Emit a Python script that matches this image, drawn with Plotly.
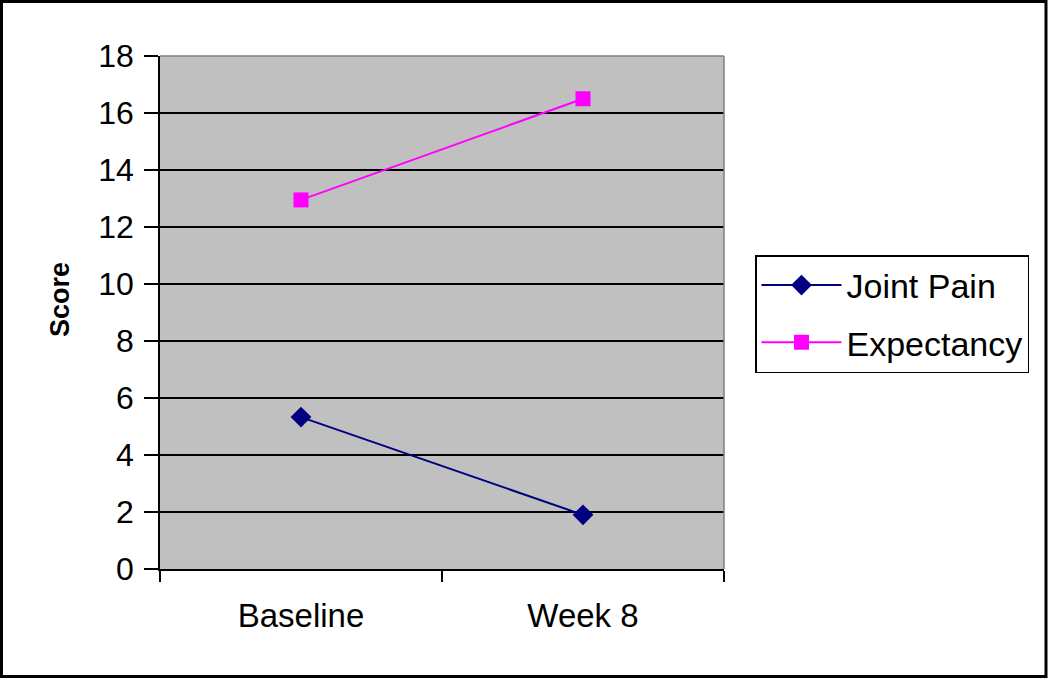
import plotly.graph_objects as go

categories = ["Baseline", "Week 8"]
joint_pain = [5.33, 1.9]
expectancy = [12.95, 16.5]
y_ticks = [0, 2, 4, 6, 8, 10, 12, 14, 16, 18]

L, R, T, B = 160, 326, 56, 110
W, H = 1050, 679
pw, ph = W - L - R, H - T - B
FONT = "Liberation Sans, Arial, sans-serif"

fig = go.Figure()
fig.add_trace(go.Scatter(x=categories, y=joint_pain, name="Joint Pain", mode="lines+markers",
                         legendgroup="a",
                         line=dict(color="#000080", width=2),
                         marker=dict(symbol="diamond", size=16, color="#000080")))
fig.add_trace(go.Scatter(x=categories, y=expectancy, name="Expectancy", mode="lines+markers",
                         legendgroup="b",
                         line=dict(color="#FF00FF", width=2),
                         marker=dict(symbol="square", size=15, color="#FF00FF")))

fig.update_layout(
    width=W, height=H,
    margin=dict(l=L, r=R, t=T, b=B, pad=0),
    paper_bgcolor="white", plot_bgcolor="#C0C0C0",
    font=dict(family=FONT, size=32, color="black"),
    legend=dict(x=(755 - L) / pw, y=(H - B - 255) / ph, xanchor="left", yanchor="top",
                bgcolor="white", bordercolor="black", borderwidth=1.5,
                font=dict(size=34), tracegroupgap=10, itemwidth=80),
    showlegend=True,
)
fig.update_xaxes(type="category", range=[-0.5, 1.5], tickson="boundaries",
                 ticks="outside", ticklen=11, tickcolor="black", tickwidth=1.5,
                 showline=True, linecolor="black", linewidth=1.5, mirror=False,
                 showgrid=False, ticklabelstandoff=17, tickfont=dict(size=33))
fig.update_yaxes(range=[0, 18], tickvals=y_ticks, ticks="outside", ticklen=14,
                 tickcolor="black", tickwidth=1.5, showline=True, linecolor="black",
                 linewidth=1.5, showgrid=True, gridcolor="black", gridwidth=1.5,
                 zeroline=False, tickfont=dict(size=32), ticklabelstandoff=4)

fig.add_annotation(text="<b>Score</b>", textangle=-90, xref="paper", yref="paper",
                   x=(60 - L) / pw, y=(H - B - 300) / ph, xanchor="center", yanchor="middle",
                   showarrow=False, font=dict(size=27, family=FONT, color="black"))

# plot area border on top/right
fig.add_shape(type="line", xref="paper", yref="paper", x0=0, x1=1, y0=1, y1=1,
              line=dict(color="#808080", width=1.5))
fig.add_shape(type="line", xref="paper", yref="paper", x0=1, x1=1, y0=0, y1=1,
              line=dict(color="#808080", width=1.5))
# outer frame
fig.add_shape(type="rect", xref="paper", yref="paper",
              x0=(1.5 - L) / pw, x1=(1046 - L) / pw,
              y0=(H - B - 676.5) / ph, y1=(H - B - 1.5) / ph,
              line=dict(color="black", width=3))

fig.write_html("out.html", config={"displayModeBar": False},
               post_script="document.body.style.margin='0';document.body.style.overflow='hidden';")
